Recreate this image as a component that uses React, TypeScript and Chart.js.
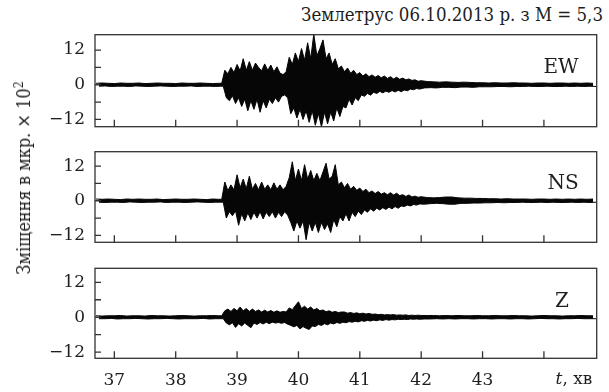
import React, { useEffect, useRef } from "react";
import { Chart, registerables } from "chart.js";

Chart.register(...registerables);

// time (minutes)
const TIME = [
  36.7, 36.8, 36.9, 37.0, 37.1, 37.2, 37.3, 37.4, 37.5, 37.6, 37.7, 37.8, 37.9, 38.0, 38.1, 38.2, 38.3, 38.4, 38.5, 38.6, 38.7,
  38.75, 38.8, 38.85, 38.9, 38.95, 39.0, 39.05, 39.1, 39.15, 39.2,
  39.25, 39.3, 39.35, 39.4, 39.45, 39.5, 39.55, 39.6, 39.65, 39.7,
  39.75, 39.8, 39.85, 39.9, 39.95, 40.0, 40.05, 40.1, 40.15, 40.2,
  40.25, 40.3, 40.35, 40.4, 40.45, 40.5, 40.55, 40.6, 40.65, 40.7,
  40.75, 40.8, 40.85, 40.9, 40.95, 41.0, 41.05, 41.1, 41.15, 41.2,
  41.25, 41.3, 41.35, 41.4, 41.45, 41.5, 41.55, 41.6, 41.65, 41.7,
  41.75, 41.8, 41.85, 41.9, 41.95, 42.0,
  42.1, 42.2, 42.3, 42.4, 42.5, 42.6, 42.7, 42.8, 42.9, 43.0, 43.1, 43.2, 43.3, 43.4,
  43.5, 43.6, 43.7, 43.8, 43.9, 44.0, 44.1, 44.2, 44.3, 44.4, 44.5, 44.6, 44.7, 44.8,
];

// EW component: upper / lower envelope of the trace (×10^2 мкр.)
const EW_UP = [
  0.5, 0.6, 0.5, 0.4, 0.6, 0.5, 0.5, 0.6, 0.4, 0.5, 0.6, 0.5, 0.5, 0.4, 0.6, 0.5, 0.5, 0.6, 0.5, 0.4, 0.5,
  0.5, 5.0, 3.8, 6.0, 4.2, 7.0, 4.8, 9.0, 5.0, 8.0,
  5.0, 7.5, 6.0, 4.8, 7.2, 5.0, 6.8, 4.5, 6.2, 4.0,
  3.5, 4.5, 9.5, 7.0, 11.0, 8.0, 12.5, 8.5, 14.5, 9.0,
  17.5, 10.0, 12.5, 15.5, 9.0, 11.0, 7.0, 9.0, 5.5, 6.5,
  4.5, 5.8, 4.0, 5.0, 3.5, 4.2, 3.0, 3.8, 2.8, 3.4,
  2.6, 3.2, 2.4, 3.0, 2.2, 2.8, 2.0, 2.6, 1.9, 2.3,
  1.7, 2.0, 1.5, 1.7, 1.2, 1.4,
  1.1, 1.0, 0.9, 1.0, 0.9, 0.8, 0.9, 0.8, 0.7, 0.7, 0.6, 0.7, 0.6, 0.6,
  0.7, 0.6, 0.6, 0.5, 0.6, 0.6, 0.5, 0.6, 0.6, 0.5, 0.6, 0.5, 0.6, 0.5,
];
const EW_LO = [
  -0.5, -0.4, -0.6, -0.5, -0.5, -0.6, -0.4, -0.5, -0.6, -0.5, -0.4, -0.5, -0.6, -0.5, -0.5, -0.4, -0.6, -0.5, -0.5, -0.6, -0.5,
  -0.5, -4.5, -5.5, -3.8, -6.5, -4.5, -7.5, -5.0, -9.0, -5.5,
  -8.5, -5.0, -9.5, -5.5, -8.0, -5.0, -6.5, -4.5, -6.0, -4.0,
  -3.5, -4.5, -10.0, -8.0, -11.5, -8.5, -12.0, -9.0, -13.0, -9.0,
  -14.0, -10.0, -14.5, -9.5, -13.5, -9.5, -12.5, -8.0, -11.0, -7.5,
  -8.0, -5.0, -7.0, -4.5, -5.5, -3.5, -4.0, -3.0, -3.6, -2.6,
  -3.0, -2.3, -2.8, -2.2, -2.6, -2.0, -2.5, -1.9, -2.4, -1.8,
  -2.1, -1.5, -1.7, -1.3, -1.5, -1.1,
  -1.0, -1.1, -0.9, -0.9, -1.0, -0.8, -0.8, -0.9, -0.7, -0.7, -0.7, -0.6, -0.6, -0.7,
  -0.6, -0.6, -0.5, -0.6, -0.6, -0.5, -0.6, -0.6, -0.5, -0.6, -0.5, -0.6, -0.5, -0.6,
];

// NS component
const NS_UP = [
  0.6, 0.5, 0.6, 0.5, 0.4, 0.6, 0.5, 0.6, 0.5, 0.5, 0.6, 0.4, 0.5, 0.6, 0.5, 0.5, 0.6, 0.5, 0.4, 0.6, 0.5,
  0.5, 6.5, 3.5, 5.5, 3.8, 9.0, 4.5, 7.5, 4.2, 8.5,
  4.0, 6.0, 3.8, 6.5, 4.0, 5.5, 3.8, 6.2, 4.0, 5.5,
  3.8, 5.0, 8.0, 13.5, 7.0, 11.0, 7.0, 12.5, 7.5, 10.5,
  7.0, 9.5, 7.0, 10.0, 13.0, 7.5, 8.5, 12.5, 5.5, 6.5,
  4.5, 6.0, 4.0, 5.0, 3.6, 4.4, 3.2, 4.0, 2.8, 3.4,
  2.5, 3.2, 2.3, 2.8, 2.1, 2.8, 2.0, 2.6, 1.8, 2.1,
  1.5, 2.0, 1.3, 1.6, 1.2, 1.4,
  1.1, 1.0, 1.1, 1.3, 1.3, 1.0, 0.9, 0.9, 0.8, 0.8, 0.7, 0.7, 0.6, 0.7,
  0.6, 0.6, 0.6, 0.5, 0.6, 0.6, 0.5, 0.6, 0.5, 0.6, 0.5, 0.6, 0.5, 0.6,
];
const NS_LO = [
  -0.5, -0.6, -0.5, -0.5, -0.6, -0.4, -0.5, -0.6, -0.5, -0.5, -0.4, -0.6, -0.5, -0.5, -0.6, -0.5, -0.4, -0.5, -0.6, -0.5, -0.5,
  -0.5, -6.0, -3.8, -5.2, -3.5, -8.5, -4.5, -7.0, -4.2, -6.5,
  -4.0, -6.0, -3.8, -6.3, -4.0, -5.5, -3.8, -6.0, -4.0, -5.5,
  -3.8, -5.0, -7.5, -10.5, -7.0, -9.5, -7.0, -13.5, -7.5, -10.5,
  -7.5, -11.0, -7.5, -10.0, -8.0, -11.0, -6.5, -9.0, -5.5, -7.0,
  -4.5, -7.0, -4.0, -5.5, -3.6, -4.8, -3.2, -4.0, -2.8, -3.6,
  -2.6, -3.2, -2.4, -3.0, -2.2, -2.8, -2.0, -2.6, -1.8, -2.0,
  -1.5, -1.8, -1.3, -1.5, -1.1, -1.2,
  -1.0, -0.9, -1.0, -1.2, -1.2, -0.9, -0.9, -0.8, -0.8, -0.7, -0.7, -0.6, -0.7, -0.6,
  -0.6, -0.5, -0.6, -0.6, -0.5, -0.6, -0.5, -0.6, -0.6, -0.5, -0.6, -0.5, -0.6, -0.5,
];

// Z component
const Z_UP = [
  0.5, 0.4, 0.5, 0.5, 0.6, 0.4, 0.5, 0.5, 0.4, 0.6, 0.5, 0.5, 0.4, 0.5, 0.6, 0.5, 0.4, 0.5, 0.5, 0.6, 0.5,
  0.5, 2.2, 2.8, 2.0, 3.0, 2.2, 3.5, 2.2, 3.0, 2.0,
  2.8, 2.0, 2.5, 1.8, 2.4, 1.8, 2.3, 1.7, 2.2, 1.7,
  2.0, 1.8, 3.2, 2.6, 4.0, 5.3, 3.0, 3.8, 2.8, 3.5,
  2.5, 3.0, 2.2, 2.5, 1.9, 2.2, 1.7, 2.0, 1.6, 1.8,
  1.8, 1.4, 1.6, 1.3, 1.5, 1.2, 1.4, 1.1, 1.3, 1.0,
  1.1, 0.9, 1.0, 0.8, 0.9, 0.8, 0.9, 0.7, 0.8, 0.7,
  0.8, 0.6, 0.7, 0.6, 0.7, 0.6,
  0.6, 0.6, 0.5, 0.6, 0.5, 0.6, 0.5, 0.5, 0.6, 0.5, 0.5, 0.6, 0.5, 0.5,
  0.6, 0.5, 0.5, 0.4, 0.5, 0.6, 0.5, 0.5, 0.4, 0.5, 0.5, 0.6, 0.5, 0.5,
];
const Z_LO = [
  -0.5, -0.5, -0.4, -0.6, -0.5, -0.5, -0.4, -0.5, -0.6, -0.5, -0.5, -0.4, -0.5, -0.6, -0.5, -0.5, -0.5, -0.4, -0.6, -0.5, -0.5,
  -0.5, -2.0, -2.6, -1.9, -3.5, -2.2, -3.0, -2.0, -2.8, -3.6,
  -2.0, -2.5, -1.8, -2.3, -1.7, -2.2, -1.7, -2.0, -1.8, -2.1,
  -1.8, -2.4, -2.8, -3.3, -2.8, -4.0, -3.2, -3.8, -4.2, -3.0,
  -3.2, -2.5, -2.8, -2.2, -2.6, -2.0, -2.3, -1.8, -2.1, -1.7,
  -1.9, -1.5, -1.7, -1.4, -1.6, -1.2, -1.4, -1.1, -1.3, -1.0,
  -1.2, -0.9, -1.1, -0.8, -1.0, -0.8, -0.9, -0.7, -0.8, -0.7,
  -0.8, -0.6, -0.7, -0.6, -0.7, -0.6,
  -0.6, -0.5, -0.6, -0.5, -0.6, -0.5, -0.5, -0.6, -0.5, -0.5, -0.6, -0.5, -0.5, -0.6,
  -0.5, -0.5, -0.6, -0.5, -0.4, -0.5, -0.5, -0.6, -0.5, -0.5, -0.4, -0.5, -0.5, -0.5,
];

const X_MIN = 36.685;
const X_MAX = 44.86;
const X_TICKS = [37, 38, 39, 40, 41, 42, 43, 44];
const X_LABELS = ["37", "38", "39", "40", "41", "42", "43", ""];
const Y_TICKS = [-12, -6, 0, 6, 12];
const Y_LABELS = ["−12", "", "0", "", "12"];

const TITLE = "Землетрус 06.10.2013 р. з M = 5,3";
const Y_TITLE = "Зміщення в мкр. × 10";
const X_UNIT = ", хв";

const FONT = "'DejaVu Serif', serif";
const COND_FONT = "'DejaVu Serif Condensed', 'DejaVu Serif', serif";
const TEXT_COLOR = "#1e1e1e";
const TRACE_COLOR = "#060606";

// upper envelope points at each sample time, lower ones half a step later
function upperPts(up: number[]) {
  return TIME.map((t, i) => ({ x: t, y: up[i] }));
}
function lowerPts(lo: number[]) {
  return TIME.map((t, i) => {
    const next = i < TIME.length - 1 ? TIME[i + 1] : t + (t - TIME[i - 1]);
    return { x: (t + next) / 2, y: lo[i] };
  });
}

const framePlugin = {
  id: "seisFrame",
  afterDatasetsDraw(chart: any) {
    const { ctx, chartArea: a, scales } = chart;
    const x = scales.x;
    const y = scales.y;
    ctx.save();
    ctx.strokeStyle = "#333";
    ctx.lineWidth = 1.3;
    ctx.strokeRect(a.left, a.top, a.right - a.left, a.bottom - a.top);
    ctx.beginPath();
    for (const v of X_TICKS) {
      const px = x.getPixelForValue(v);
      ctx.moveTo(px, a.bottom);
      ctx.lineTo(px, a.bottom - 7);
    }
    for (const v of Y_TICKS) {
      const py = y.getPixelForValue(v);
      ctx.moveTo(a.left, py);
      ctx.lineTo(a.left + 6, py);
    }
    ctx.stroke();
    ctx.restore();
  },
};

type PanelProps = {
  top: number;
  height: number;
  padTop: number;
  padBottom: number;
  up: number[];
  lo: number[];
  yMin: number;
  yMax: number;
  bottom?: boolean;
};

function Panel({ top, height, padTop, padBottom, up, lo, yMin, yMax, bottom }: PanelProps) {
  const ref = useRef<HTMLCanvasElement>(null);
  useEffect(() => {
    if (!ref.current) return;
    const chart = new Chart(ref.current, {
      type: "line",
      data: {
        datasets: [
          {
            data: upperPts(up),
            borderColor: TRACE_COLOR,
            borderWidth: 1,
            pointRadius: 0,
            tension: 0,
            fill: false,
          },
          {
            data: lowerPts(lo),
            borderColor: TRACE_COLOR,
            backgroundColor: TRACE_COLOR,
            borderWidth: 1,
            pointRadius: 0,
            tension: 0,
            fill: "-1",
          },
        ],
      },
      options: {
        animation: false,
        responsive: false,
        maintainAspectRatio: false,
        events: [],
        layout: { padding: { left: 0, right: 12.3, top: padTop, bottom: padBottom } },
        plugins: { legend: { display: false }, tooltip: { enabled: false }, title: { display: false } },
        scales: {
          x: {
            type: "linear",
            min: X_MIN,
            max: X_MAX,
            display: !!bottom,
            grid: { display: false },
            border: { display: false },
            afterBuildTicks: (s: any) => {
              s.ticks = X_TICKS.map((v) => ({ value: v }));
            },
            afterFit: (s: any) => {
              s.height = bottom ? 28 : 0;
              s.paddingLeft = 0;
              s.paddingRight = 0;
            },
            ticks: {
              autoSkip: false,
              maxRotation: 0,
              padding: 4,
              color: TEXT_COLOR,
              font: { family: FONT, size: 17 },
              callback: (_v: any, i: number) => X_LABELS[i],
            },
          },
          y: {
            type: "linear",
            min: yMin,
            max: yMax,
            grid: { display: false },
            border: { display: false },
            afterBuildTicks: (s: any) => {
              s.ticks = Y_TICKS.map((v) => ({ value: v }));
            },
            afterFit: (s: any) => {
              s.width = 95;
              s.paddingTop = 0;
              s.paddingBottom = 0;
            },
            ticks: {
              padding: 2,
              color: TEXT_COLOR,
              font: { family: FONT, size: 17 },
              callback: (_v: any, i: number) => Y_LABELS[i],
            },
          },
        },
      },
      plugins: [framePlugin],
    } as any);
    return () => chart.destroy();
  }, []);
  return (
    <canvas
      ref={ref}
      width={609}
      height={height}
      style={{ position: "absolute", left: 0, top, width: 609, height }}
    />
  );
}

const centered = (left: number, top: number, size: number): React.CSSProperties => ({
  position: "absolute",
  left,
  top,
  transform: "translate(-50%, -50%)",
  fontSize: size,
  lineHeight: 1,
  whiteSpace: "nowrap",
});

export default function App() {
  return (
    <div
      style={{
        position: "fixed",
        left: 0,
        top: 0,
        width: 609,
        height: 392,
        background: "#fff",
        overflow: "hidden",
        fontFamily: FONT,
        color: TEXT_COLOR,
      }}
    >
      <Panel top={30} height={102} padTop={4.7} padBottom={5.3} up={EW_UP} lo={EW_LO} yMin={-14.5} yMax={17.3} />
      <Panel top={147} height={100} padTop={4.7} padBottom={4.7} up={NS_UP} lo={NS_LO} yMin={-14.4} yMax={17} />
      <Panel top={263} height={129} padTop={5.3} padBottom={5.7} up={Z_UP} lo={Z_LO} yMin={-14.1} yMax={16.8} bottom />

      <div
        style={{
          position: "absolute",
          right: 6,
          top: 4,
          fontFamily: COND_FONT,
          fontSize: 18.5,
          lineHeight: "22px",
          whiteSpace: "nowrap",
        }}
      >
        {TITLE}
      </div>
      <div
        style={{
          position: "absolute",
          left: 23,
          top: 178,
          transform: "translate(-50%, -50%) rotate(-90deg)",
          fontFamily: COND_FONT,
          fontSize: 18,
          lineHeight: 1,
          whiteSpace: "nowrap",
        }}
      >
        {Y_TITLE}
        <sup style={{ fontSize: 12 }}>2</sup>
      </div>
      <div style={centered(561, 66, 20)}>EW</div>
      <div style={centered(563, 182, 20)}>NS</div>
      <div style={centered(562, 300, 20)}>Z</div>
      <div style={centered(574, 378, 17)}>
        <span style={{ fontStyle: "italic" }}>t</span>
        {X_UNIT}
      </div>
    </div>
  );
}
